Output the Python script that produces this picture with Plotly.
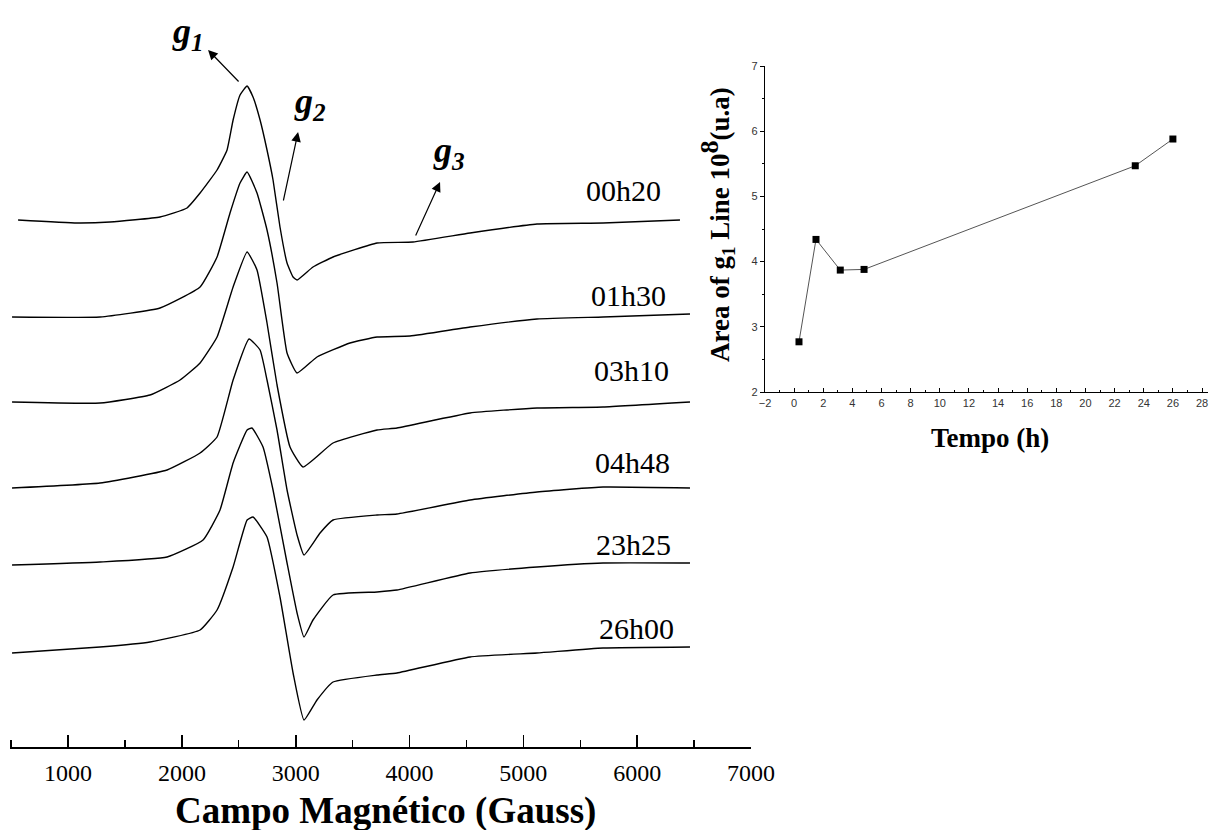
import plotly.graph_objects as go

# ---------------- EPR spectra (field in Gauss, signal in arbitrary units relative to baseline)
labels = ["00h20", "01h30", "03h10", "04h48", "23h25", "26h00"]
offsets = [527, 430, 344, 260, 182, 94]

field_1 = [561, 1079, 1369, 1808, 2045, 2160, 2309, 2397, 2450, 2511, 2573, 2625, 2687, 2748, 2801, 2862,
           2924, 2977, 3012, 3152, 3328, 3715, 4031, 4532, 5120, 5700, 6376]
signal_1 = [0, -3, -2, 3, 12, 27, 50, 70, 100, 125, 134, 123, 100, 70, 40, -7,
            -43, -57, -60, -47, -37, -23, -22, -13, -4, -3, 0]

field_2 = [508, 1281, 1808, 2160, 2309, 2423, 2511, 2573, 2660, 2748, 2836, 2924, 3012, 3187, 3477,
           3715, 4004, 4532, 5120, 5700, 6464]
signal_2 = [0, 0, 9, 30, 60, 104, 134, 145, 124, 87, 34, -36, -56, -40, -26,
            -20, -19, -10, -2, 0, 3]

field_3 = [508, 1281, 1720, 1984, 2160, 2309, 2450, 2573, 2660, 2748, 2836, 2950, 3064, 3328, 3715,
           3890, 4532, 5120, 5700, 6464]
signal_3 = [1, 0, 8, 23, 40, 66, 116, 151, 133, 80, 18, -44, -64, -40, -27,
            -25, -10, -5, -4, 1]

field_4 = [508, 1281, 1870, 2160, 2309, 2450, 2590, 2687, 2748, 2836, 2924, 3012, 3073, 3214, 3328,
           3715, 3890, 4532, 5120, 5700, 6464]
signal_4 = [-1, 4, 17, 34, 50, 107, 148, 137, 107, 57, -3, -48, -68, -46, -33,
            -28, -27, -13, -5, 0, -1]

field_5 = [508, 1281, 1870, 2186, 2335, 2450, 2573, 2616, 2713, 2801, 2924, 3012, 3073, 3152, 3328,
           3715, 3890, 4532, 5120, 5700, 6464]
signal_5 = [0, 3, 8, 25, 55, 102, 135, 137, 118, 75, 2, -48, -72, -55, -30,
            -27, -25, -8, -2, 2, 2]

field_6 = [508, 1281, 1720, 2160, 2309, 2450, 2573, 2625, 2748, 2862, 2977, 3073, 3187, 3328, 3715,
           3890, 4532, 5120, 5700, 6464]
signal_6 = [0, 6, 11, 23, 43, 86, 133, 136, 116, 56, -20, -67, -47, -29, -22,
            -20, -4, 0, 5, 6]

fields = [field_1, field_2, field_3, field_4, field_5, field_6]
signals = [signal_1, signal_2, signal_3, signal_4, signal_5, signal_6]

field_ticks = [1000, 2000, 3000, 4000, 5000, 6000, 7000]

# ---------------- Inset: area of g1 line vs time
time_h = [0.333, 1.5, 3.167, 4.8, 23.417, 26.0]
area_g1 = [2.77, 4.34, 3.87, 3.88, 5.47, 5.88]

# ---------------- layout helpers (pixel -> paper)
W, H = 1209, 830
def px(x):
    return x / W
def py(y):
    return (H - y) / H

serif = "Liberation Serif"
sans = "Liberation Sans"

fig = go.Figure()

for f, s, off in zip(fields, signals, offsets):
    fig.add_trace(go.Scatter(
        x=f, y=[v + off for v in s], mode="lines",
        line=dict(color="black", width=1.4, shape="spline", smoothing=0.4),
        showlegend=False, hoverinfo="skip", xaxis="x", yaxis="y"))

fig.add_trace(go.Scatter(
    x=time_h, y=area_g1, mode="lines+markers",
    line=dict(color="#555555", width=1),
    marker=dict(symbol="square", size=7, color="black"),
    showlegend=False, xaxis="x2", yaxis="y2"))

annotations = []
# spectrum labels (placed in data coordinates just above each baseline)
label_pos = [(5884, 557), (5920, 452), (5946, 377), (5955, 285), (5964, 203), (5990, 119)]
for lab, (lx, ly) in zip(labels, label_pos):
    annotations.append(dict(x=lx, y=ly, xref="x", yref="y", text=lab, showarrow=False,
                            font=dict(family=serif, size=30, color="black"),
                            xanchor="center", yanchor="middle"))

# g labels and arrows
g_labels = [("1", 2054, 714), ("2", 3126, 644), ("3", 4347, 595)]
for sub, gx, gy in g_labels:
    annotations.append(dict(x=gx, y=gy, xref="x", yref="y",
                            text="<b><i>g</i></b><sub><b><i>%s</i></b></sub>" % sub,
                            showarrow=False, font=dict(family=serif, size=36, color="black"),
                            xanchor="center", yanchor="middle"))
arrows = [(2230, 697, 2511, 664), (3021, 615, 2889, 545), (4268, 565, 4048, 510)]
for hx, hy, tx, ty in arrows:
    annotations.append(dict(x=hx, y=hy, ax=tx, ay=ty, xref="x", yref="y", axref="x", ayref="y",
                            text="", showarrow=True, arrowhead=2, arrowsize=1.6, arrowwidth=1.2,
                            arrowcolor="black"))

# axis titles
annotations.append(dict(x=px(385), y=py(811), xref="paper", yref="paper",
                        text="<b>Campo Magnético (Gauss)</b>", showarrow=False,
                        font=dict(family=serif, size=37, color="black"),
                        xanchor="center", yanchor="middle"))
annotations.append(dict(x=px(990), y=py(438), xref="paper", yref="paper",
                        text="<b>Tempo (h)</b>", showarrow=False,
                        font=dict(family=serif, size=27, color="black"),
                        xanchor="center", yanchor="middle"))
annotations.append(dict(x=px(717), y=py(225), xref="paper", yref="paper",
                        text="<b>Area of g<sub>1</sub> Line 10<sup><span style='font-size:26px'>8</span></sup>(u.a)</b>",
                        showarrow=False, textangle=-90,
                        font=dict(family=serif, size=27, color="black"),
                        xanchor="center", yanchor="middle"))

fig.update_layout(
    width=W, height=H,
    margin=dict(l=0, r=0, t=0, b=0, autoexpand=False),
    paper_bgcolor="white", plot_bgcolor="white",
    showlegend=False,
    xaxis=dict(domain=[px(10), px(751)], range=[490, 7000], tickvals=field_ticks,
               showgrid=False, zeroline=False, showline=True, linecolor="black", linewidth=1.6,
               ticks="inside", ticklen=12, tickwidth=1.6, tickcolor="black",
               minor=dict(dtick=500, tick0=0, ticks="inside", ticklen=7, tickwidth=1.4, tickcolor="black"),
               tickfont=dict(family=serif, size=24, color="black"), ticklabelstandoff=4,
               anchor="y", fixedrange=True, automargin=False),
    yaxis=dict(domain=[py(747), 1.0], range=[0, 747], visible=False, anchor="x", fixedrange=True,
               automargin=False),
    xaxis2=dict(domain=[px(765), px(1208)], range=[-2, 28.41], dtick=2, tick0=-2,
                showgrid=False, zeroline=False, showline=True, linecolor="black", linewidth=1.3,
                ticks="inside", ticklen=4, tickwidth=1, tickcolor="black",
                minor=dict(dtick=1, ticks="inside", ticklen=2, tickwidth=1, tickcolor="black"),
                tickfont=dict(family=sans, size=11, color="#333333"), anchor="y2", fixedrange=True,
                automargin=False),
    yaxis2=dict(domain=[py(392), py(66)], range=[2, 7], dtick=1,
                showgrid=False, zeroline=False, showline=True, linecolor="black", linewidth=1.3,
                ticks="outside", ticklen=4, tickwidth=1, tickcolor="black",
                minor=dict(dtick=0.5, ticks="outside", ticklen=2, tickwidth=1, tickcolor="black"),
                tickfont=dict(family=sans, size=11, color="#333333"), anchor="x2", fixedrange=True,
                automargin=False),
    annotations=annotations,
)

fig.write_html("out.html", config={"displayModeBar": False, "staticPlot": True},
               post_script="document.body.style.margin='0';document.body.style.overflow='hidden';")
